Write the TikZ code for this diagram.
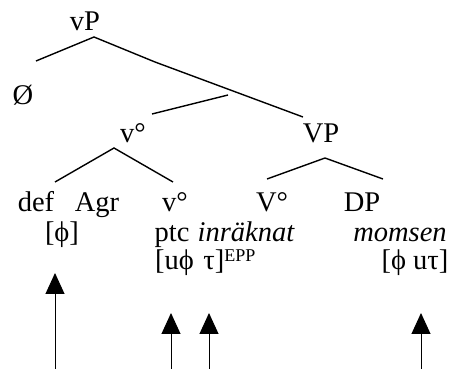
\documentclass[tikz,border=0pt]{standalone}
\usepackage{fontspec}
\setmainfont{Liberation Serif}
\usetikzlibrary{arrows.meta}
\newcommand{\epp}{\raisebox{9pt}{\fontsize{18}{20}\selectfont EPP}}
\begin{document}
\begin{tikzpicture}[x=1pt,y=-1pt,
  lab/.style={anchor=base,inner sep=0pt,font=\fontsize{28.5}{32}\selectfont},
  branch/.style={line width=1.4pt},
  agree/.style={line width=1pt,-{Triangle[length=21pt,width=19pt]}}]
\useasboundingbox (0,0) rectangle (451,369);
\node[lab] (vP) at (85,31) {vP};
\node[lab] (null) at (23,105) {Ø};
\node[lab] (vbar) at (133,143) {v°};
\node[lab] (VP) at (321,143) {VP};
\node[lab] (def) at (36,212) {def};
\node[lab] (Agr) at (97,212) {Agr};
\node[lab] (vhead) at (175,212) {v°};
\node[lab] (Vhead) at (272,212) {V°};
\node[lab] (DP) at (362,212) {DP};
\node[lab] (phi) at (62,242) {[ϕ]};
\node[lab] (ptc) at (172,242) {ptc};
\node[lab] (verb) at (246,242) {\itshape inräknat};
\node[lab] (obj) at (400,242) {\itshape momsen};
\node[lab,anchor=base west] (probe) at (155,270) {[uϕ\,\,τ]\epp};
\node[lab] (goal) at (415,270) {[ϕ uτ]};
\coordinate (vPtop) at (94,37);
\coordinate (nullend) at (36,61);
\coordinate (kink) at (155,62);
\coordinate (VPend) at (303,117);
\coordinate (split) at (228,95);
\coordinate (vend) at (152,114);
\coordinate (vtop) at (114,148);
\coordinate (vleft) at (55,182);
\coordinate (vright) at (173,182);
\coordinate (Vtop) at (325,158);
\coordinate (Vleft) at (267,179);
\coordinate (Vright) at (383,179);
\draw[branch] (nullend) -- (vPtop) -- (kink) -- (VPend);
\draw[branch] (split) -- (vend);
\draw[branch] (vleft) -- (vtop) -- (vright);
\draw[branch] (Vleft) -- (Vtop) -- (Vright);
\coordinate (a1) at (55,369);
\coordinate (t1) at (55,273);
\coordinate (a2) at (171,369);
\coordinate (t2) at (171,313);
\coordinate (a3) at (209,369);
\coordinate (t3) at (209,313);
\coordinate (a4) at (421,369);
\coordinate (t4) at (421,313);
\draw[agree] (a1) -- (t1);
\draw[agree] (a2) -- (t2);
\draw[agree] (a3) -- (t3);
\draw[agree] (a4) -- (t4);
\end{tikzpicture}
\end{document}
